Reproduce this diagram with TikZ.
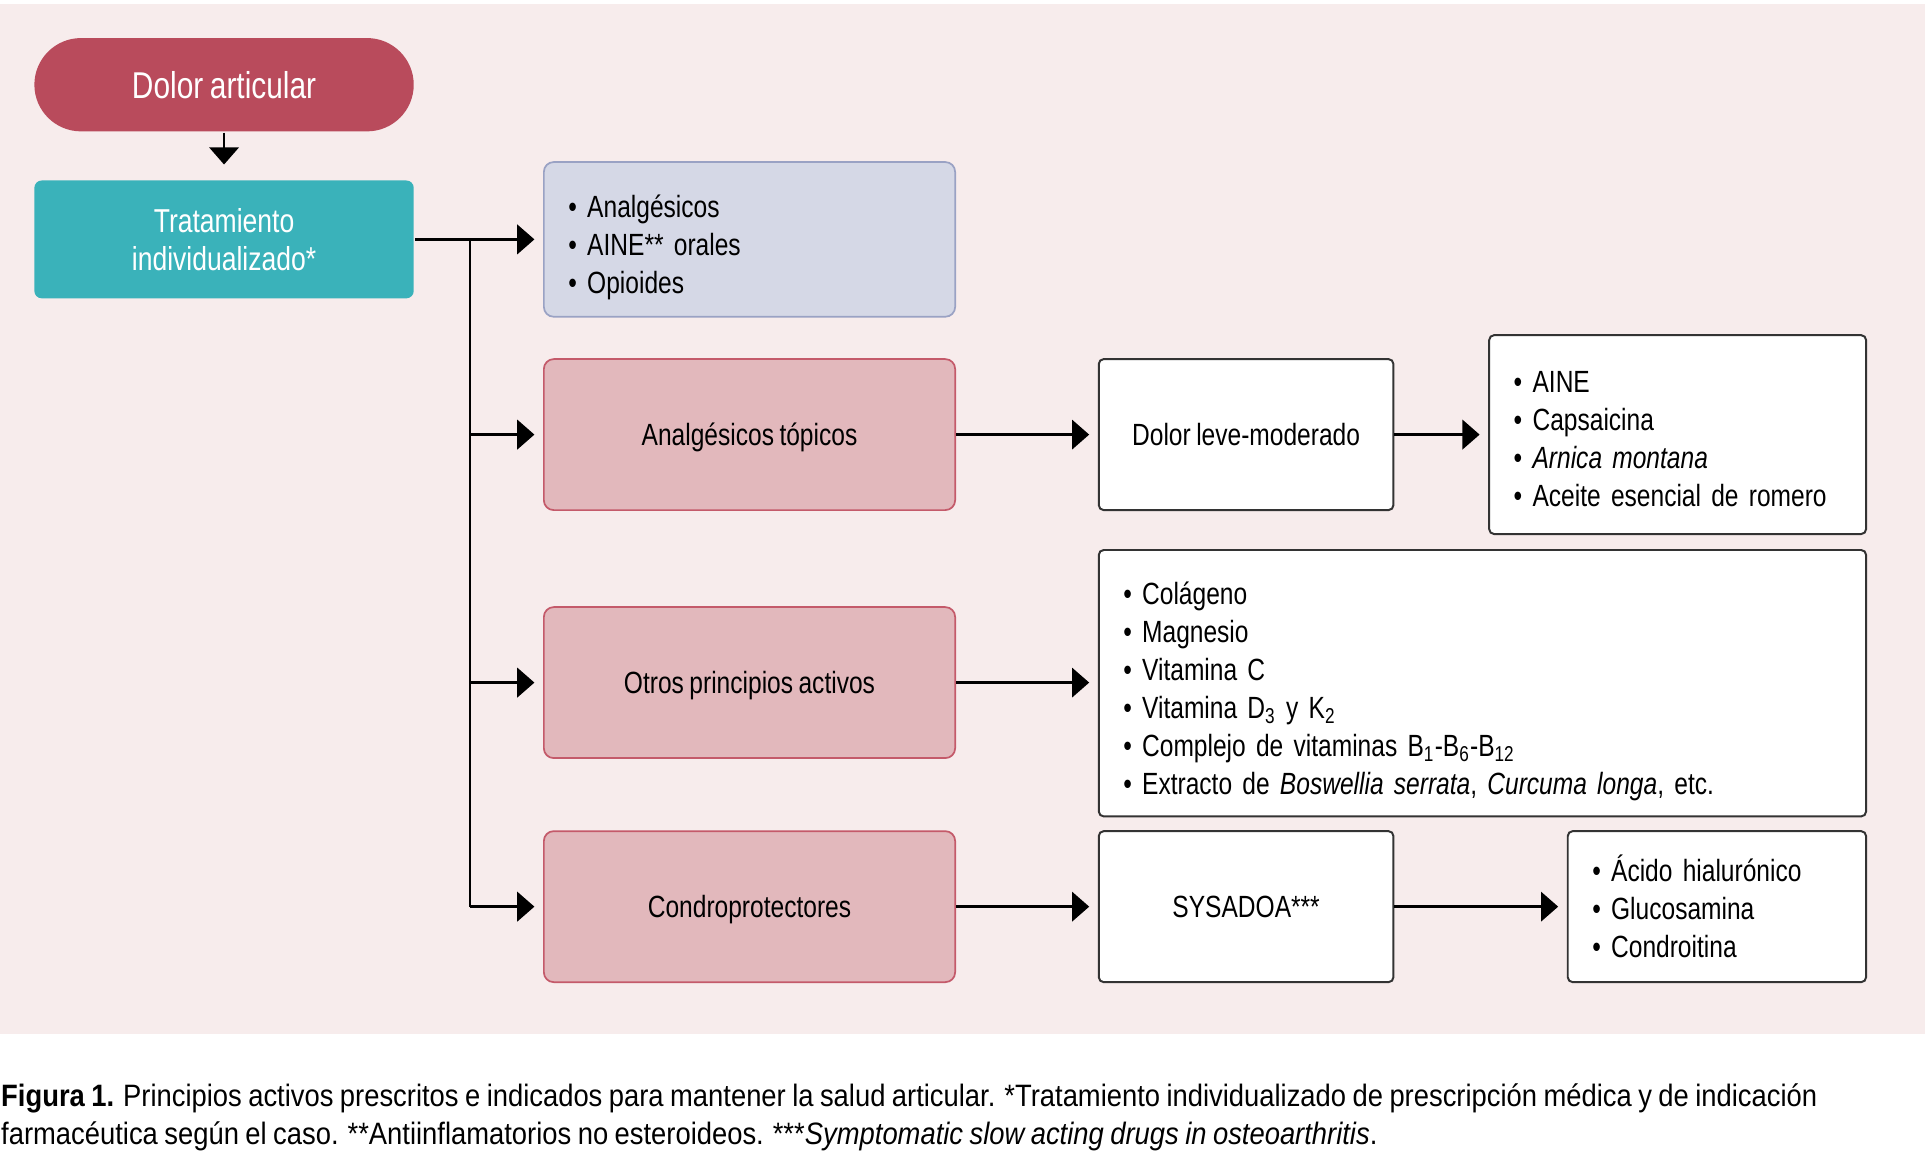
\documentclass[tikz,border=0pt]{standalone}
\usepackage{fontspec}
\setmainfont{Liberation Sans}[FakeStretch=0.8, WordSpace=0.8]
\newfontfamily\captionfont{Liberation Sans}[FakeStretch=0.885, WordSpace=0.85]
\usetikzlibrary{arrows.meta}

\definecolor{bgpink}{HTML}{F7ECEC}
\definecolor{pillred}{HTML}{B94B5C}
\definecolor{tealbox}{HTML}{3AB2BA}
\definecolor{bluefill}{HTML}{D5D8E6}
\definecolor{bluedraw}{HTML}{9AA2C4}
\definecolor{rosefill}{HTML}{E2B8BC}
\definecolor{rosedraw}{HTML}{C45A6A}
\definecolor{boxline}{HTML}{333333}

\begin{document}
\begin{tikzpicture}
[ x=0.5pt, y=-0.5pt, line width=1pt
, font=\fontsize{12.5}{15.5}\selectfont
, start/.style={rectangle, rounded corners=19pt, fill=pillred, text=white, minimum width=154.5pt, minimum height=38pt, font=\fontsize{15.2}{18}\selectfont}
, treatment/.style={rectangle, rounded corners=3pt, fill=tealbox, text=white, minimum width=154.5pt, minimum height=48pt, align=center, font=\fontsize{13.5}{15.5}\selectfont}
, drug/.style={rectangle, rounded corners=4pt, draw=rosedraw, fill=rosefill, line width=0.7pt, minimum width=167.5pt, minimum height=61.5pt, text depth=0pt}
, oral/.style={rectangle, rounded corners=4pt, draw=bluedraw, fill=bluefill, line width=0.7pt, align=left, inner xsep=10pt, text width=147.5pt, minimum height=63pt, execute at begin node={\rule{0pt}{15.5pt}}}
, plain/.style={rectangle, rounded corners=2pt, draw=boxline, fill=white, line width=0.8pt, minimum width=120pt, minimum height=61.5pt, text depth=0pt}
, listbox/.style n args={3}{rectangle, rounded corners=2pt, draw=boxline, fill=white, line width=0.8pt, align=left, inner xsep=10pt, text width=#1, minimum height=#2, execute at begin node={\rule{0pt}{#3}}}
, arrow/.style={-{Triangle[length=7pt, width=12pt]}, shorten >=3.5pt}
]
\useasboundingbox (0,0) rectangle (1568,948);
\fill [bgpink] (0,3) rectangle (1568,842);

% Left column:
\node (dolor) [start] at (182.5,69) {Dolor articular};
\node (trat) [treatment] at (182.5,195) {Tratamiento\\individualizado*};

% Second column:
\node (oral) [oral] at (610.5,195) {• Analgésicos\\• AINE** orales\\• Opioides};
\node (topic) [drug] at (610.5,354) {Analgésicos tópicos};
\node (otros) [drug] at (610.5,556) {Otros principios activos};
\node (condro) [drug] at (610.5,738.5) {Condroprotectores};

% Right columns:
\node (leve) [plain] at (1015,354) {Dolor leve-moderado};
\node (aine) [listbox={133.5pt}{81pt}{12pt}] at (1366.5,354)
  {• AINE\\• Capsaicina\\• \textit{Arnica montana}\\• Aceite esencial de romero};
\node (lista) [listbox={292.5pt}{108.5pt}{16pt}] at (1207.5,556.5)
  {• Colágeno\\• Magnesio\\• Vitamina C\\• Vitamina D\textsubscript{3} y K\textsubscript{2}\\
   • Complejo de vitaminas B\textsubscript{1}-B\textsubscript{6}-B\textsubscript{12}\\
   • Extracto de \textit{Boswellia serrata}, \textit{Curcuma longa}, etc.};
\node (sysadoa) [plain] at (1015,738.5) {SYSADOA***};
\node (acido) [listbox={101.5pt}{61.5pt}{0pt}] at (1398.5,738.5)
  {• Ácido hialurónico\\• Glucosamina\\• Condroitina};

% Connectors:
\coordinate (fork) at (383,195);
\draw [arrow, shorten >=6pt] (dolor) -- (trat);
\draw [arrow] (trat) -- (oral);
\draw (fork) -- (fork |- condro.west);
\draw [arrow] (fork |- topic.west) -- (topic);
\draw [arrow] (fork |- otros.west) -- (otros);
\draw [arrow] (fork |- condro.west) -- (condro);
\draw [arrow] (topic) -- (leve);
\draw [arrow] (leve) -- (aine);
\draw [arrow] (otros) -- (otros -| lista.west);
\draw [arrow] (condro) -- (sysadoa);
\draw [arrow] (sysadoa) -- (acido);

% Caption:
\node (caption) [anchor=north west, inner sep=0pt, align=left, font=\captionfont\fontsize{12.6}{15.5}\selectfont] at (0,882)
  {\textbf{Figura 1.} Principios activos prescritos e indicados para mantener la salud articular. *Tratamiento individualizado de prescripción médica y de indicación\\
   farmacéutica según el caso. **Antiinflamatorios no esteroideos. ***\textit{Symptomatic slow acting drugs in osteoarthritis}.};
\end{tikzpicture}
\end{document}
